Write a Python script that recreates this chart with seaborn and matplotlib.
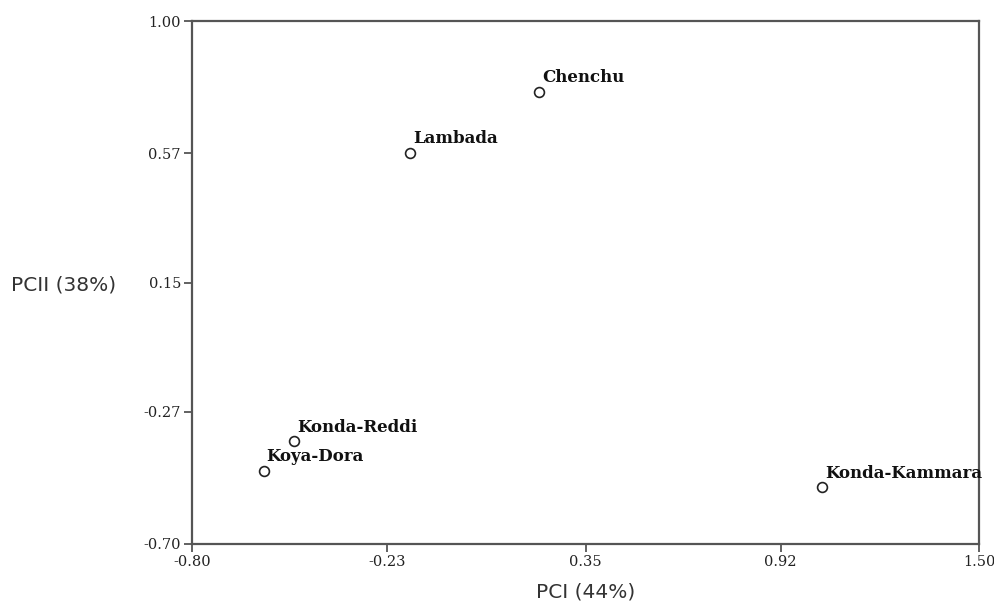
import matplotlib
matplotlib.use("Agg")
import matplotlib.pyplot as plt
import seaborn as sns
import pandas as pd

# veriler
gruplar = ["Chenchu", "Lambada", "Konda-Reddi", "Koya-Dora", "Konda-Kammara"]
pc1 = [0.215, -0.162, -0.501, -0.590, 1.042]
pc2 = [0.770, 0.573, -0.367, -0.462, -0.516]
xticks = [-0.80, -0.23, 0.35, 0.92, 1.50]
yticks = [-0.70, -0.27, 0.15, 0.57, 1.00]

veri = pd.DataFrame({"grup": gruplar, "pc1": pc1, "pc2": pc2})

sns.set_style("white")
fig = plt.figure(figsize=(9.95, 6.07), dpi=100)
ax = fig.add_axes([0.193, 0.104, 0.791, 0.861])

sns.scatterplot(data=veri, x="pc1", y="pc2", ax=ax, marker="o", s=50,
                facecolor="white", edgecolor="#222222", linewidth=1.2, zorder=3)

# etiketler
for i, satir in veri.iterrows():
    ax.annotate(satir.grup, (satir.pc1, satir.pc2), xytext=(2, 4),
                textcoords="offset points", fontsize=12, fontweight="bold",
                family="DejaVu Serif", color="#111111", ha="left", va="bottom")

ax.set_xlim(-0.80, 1.50)
ax.set_ylim(-0.70, 1.00)
ax.set_xticks(xticks)
ax.set_yticks(yticks)
ax.set_xticklabels([f"{t:.2f}" for t in xticks], family="DejaVu Serif", fontsize=10.5, color="#222222")
ax.set_yticklabels([f"{t:.2f}" for t in yticks], family="DejaVu Serif", fontsize=10.5, color="#222222")
ax.tick_params(bottom=True, left=True, direction="out", length=6, width=1.3,
               color="#555555", pad=2)

for s in ax.spines.values():
    s.set_visible(True)
    s.set_color("#555555")
    s.set_linewidth(1.6)

ax.set_xlabel("PCI (44%)", family="DejaVu Sans", fontsize=14.5, color="#333333", labelpad=10)
ax.set_ylabel("PCII (38%)", family="DejaVu Sans", fontsize=14.5, color="#333333",
              rotation=0, va="center", ha="center")
ax.yaxis.set_label_coords(-0.163, 0.495)
ax.grid(False)

plt.savefig("out.png", dpi=100)
